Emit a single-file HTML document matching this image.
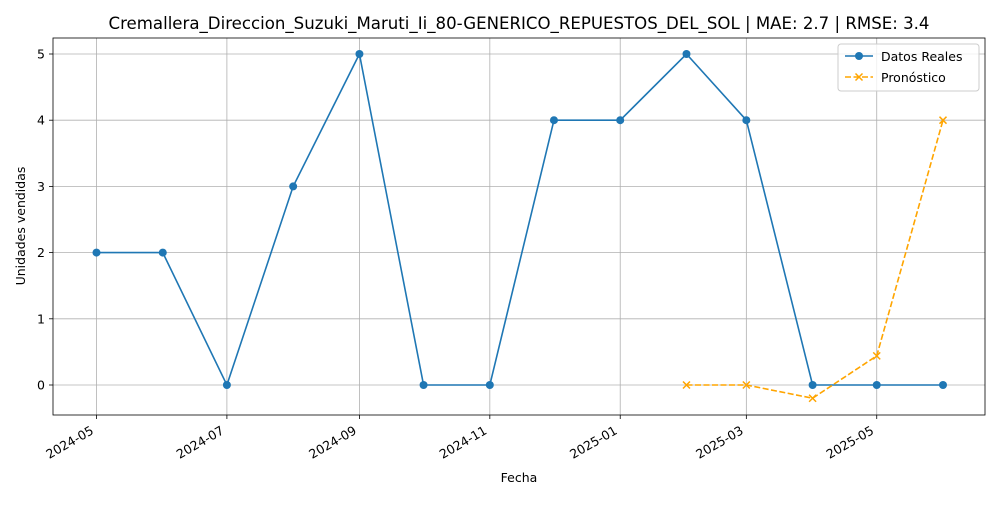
<!DOCTYPE html>
<html><head><meta charset="utf-8"><style>
body{margin:0;background:#fff;font-family:"Liberation Sans","DejaVu Sans",sans-serif;position:relative}
text{font-family:"DejaVu Sans","Liberation Sans",sans-serif}
</style></head><body>
<svg id="chart" width="1000" height="500" xmlns="http://www.w3.org/2000/svg"></svg>
<script>
const actualDates=["2024-05-01","2024-06-01","2024-07-01","2024-08-01","2024-09-01","2024-10-01","2024-11-01","2024-12-01","2025-01-01","2025-02-01","2025-03-01","2025-04-01","2025-05-01","2025-06-01"];
const actualValues=[2,2,0,3,5,0,0,4,4,5,4,0,0,0];
const forecastDates=["2025-02-01","2025-03-01","2025-04-01","2025-05-01","2025-06-01"];
const forecastValues=[0,0,-0.2,0.44,4];
const xTicks=["2024-05","2024-07","2024-09","2024-11","2025-01","2025-03","2025-05"];
const yTicks=[0,1,2,3,4,5];

const svg=document.getElementById('chart');
const NS="http://www.w3.org/2000/svg";
const L=53,R=985,T=38,B=415;
const t0=Date.parse("2024-05-01"),t1=Date.parse("2025-06-01");
const px0=96.5,px1=943;
function xs(d){return px0+(Date.parse(d)-t0)/(t1-t0)*(px1-px0);}
function ys(v){return 385-v*66.2;}
function el(tag,attrs,parent){const e=document.createElementNS(NS,tag);for(const k in attrs)e.setAttribute(k,attrs[k]);(parent||svg).appendChild(e);return e;}

yTicks.forEach(v=>{
  const g=el('line',{x1:L,x2:R,y1:ys(v),y2:ys(v),stroke:'#b0b0b0','stroke-width':0.8});
  
  
  el('line',{x1:L-4,x2:L,y1:ys(v),y2:ys(v),stroke:'#000','stroke-width':0.8});
  const t=el('text',{x:L-8,y:ys(v)+4.5,'text-anchor':'end','font-size':12.5});
  t.textContent=v;
  
  
});
xTicks.forEach(m=>{
  const x=xs(m+"-01");
  const g=el('line',{x1:x,x2:x,y1:T,y2:B,stroke:'#b0b0b0','stroke-width':0.8});
  
  
  el('line',{x1:x,x2:x,y1:B,y2:B+4,stroke:'#000','stroke-width':0.8});
  const t=el('text',{x:x-2,y:B+18,'text-anchor':'end','font-size':12.5,transform:`rotate(-30 ${x-2} ${B+18})`});
  t.textContent=m;
  
  
});
const frame=el('rect',{x:L,y:T,width:R-L,height:B-T,fill:'none',stroke:'#000','stroke-width':0.8});



const ap=el('polyline',{points:actualDates.map((d,i)=>xs(d)+','+ys(actualValues[i])).join(' '),fill:'none',stroke:'#1f77b4','stroke-width':1.6});


actualDates.forEach((d,i)=>{
  const c=el('circle',{cx:xs(d),cy:ys(actualValues[i]),r:4,fill:'#1f77b4'});
  
  
});
const fp=el('polyline',{points:forecastDates.map((d,i)=>xs(d)+','+ys(forecastValues[i])).join(' '),fill:'none',stroke:'orange','stroke-width':1.6,'stroke-dasharray':'6,2.5'});


forecastDates.forEach((d,i)=>{
  const x=xs(d),y=ys(forecastValues[i]);
  const m=el('path',{d:`M${x-3.5},${y-3.5}L${x+3.5},${y+3.5}M${x-3.5},${y+3.5}L${x+3.5},${y-3.5}`,stroke:'orange','stroke-width':1.5});
  
  
});
</script>
<svg width="1000" height="500" style="position:absolute;left:0;top:0;pointer-events:none" xmlns="http://www.w3.org/2000/svg">
<text x="519" y="29" text-anchor="middle" font-size="16.6" font-family="DejaVu Sans,sans-serif">Cremallera_Direccion_Suzuki_Maruti_Ii_80-GENERICO_REPUESTOS_DEL_SOL | MAE: 2.7 | RMSE: 3.4</text>
<text x="519" y="482" text-anchor="middle" font-size="12.5" font-family="DejaVu Sans,sans-serif">Fecha</text>
<text x="25" y="226" text-anchor="middle" font-size="12.5" font-family="DejaVu Sans,sans-serif" transform="rotate(-90 25 226)">Unidades vendidas</text>
<g>
<rect x="838" y="44" width="141" height="47" rx="3" fill="#fff" fill-opacity="0.8" stroke="#ccc"/>
<line x1="845" x2="873" y1="56" y2="56" stroke="#1f77b4" stroke-width="1.6"/>
<circle cx="859" cy="56" r="4" fill="#1f77b4"/>
<text x="881" y="61" font-size="12.5" font-family="DejaVu Sans,sans-serif">Datos Reales</text>
<line x1="845" x2="873" y1="77" y2="77" stroke="orange" stroke-width="1.6" stroke-dasharray="6,2.5"/>
<path d="M855.5,73.5L862.5,80.5M855.5,80.5L862.5,73.5" stroke="orange" stroke-width="1.5"/>
<text x="881" y="82" font-size="12.5" font-family="DejaVu Sans,sans-serif">Pronóstico</text>
</g>
</svg>
</body></html>
